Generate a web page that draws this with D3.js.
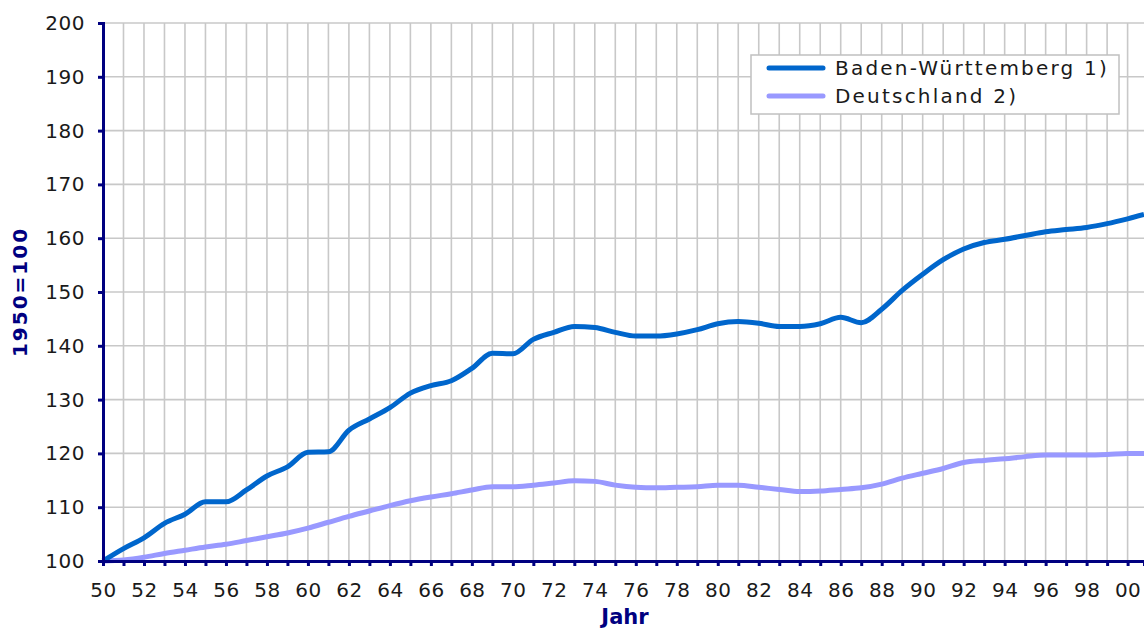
<!DOCTYPE html>
<html>
<head>
<meta charset="utf-8">
<script src="https://cdn.jsdelivr.net/npm/d3@7/dist/d3.min.js"></script>
<style>
  html, body { margin: 0; padding: 0; background: #fff; }
  svg { display: block; }
</style>
</head>
<body>
<svg id="chart" width="1144" height="630"></svg>
<script>
// Jahre (letzter Punkt: Ende 2000, Bild rechts abgeschnitten)
const years = [1950, 1951, 1952, 1953, 1954, 1955, 1956, 1957, 1958, 1959,
  1960, 1961, 1962, 1963, 1964, 1965, 1966, 1967, 1968, 1969,
  1970, 1971, 1972, 1973, 1974, 1975, 1976, 1977, 1978, 1979,
  1980, 1981, 1982, 1983, 1984, 1985, 1986, 1987, 1988, 1989,
  1990, 1991, 1992, 1993, 1994, 1995, 1996, 1997, 1998, 1999,
  2000, 2000.8];

const badenWuerttemberg = [100, 102.3, 104.3, 107.0, 108.7, 111.0, 111.0, 113.2, 115.8, 117.5,
  120.2, 120.3, 124.3, 126.4, 128.5, 131.2, 132.6, 133.5, 135.8, 138.6,
  138.5, 141.2, 142.5, 143.6, 143.4, 142.5, 141.8, 141.8, 142.2, 143.0,
  144.1, 144.5, 144.2, 143.6, 143.6, 144.1, 145.3, 144.3, 146.8, 150.3,
  153.3, 156.0, 158.0, 159.2, 159.8, 160.5, 161.2, 161.6, 162.0, 162.7,
  163.6, 164.4];

const deutschland = [100, 100.2, 100.7, 101.4, 102.0, 102.6, 103.1, 103.8, 104.5, 105.2,
  106.1, 107.2, 108.3, 109.3, 110.3, 111.2, 111.9, 112.5, 113.2, 113.8,
  113.8, 114.1, 114.5, 114.9, 114.8, 114.1, 113.7, 113.6, 113.7, 113.8,
  114.1, 114.1, 113.7, 113.3, 112.9, 113.0, 113.3, 113.6, 114.3, 115.4,
  116.3, 117.2, 118.3, 118.7, 119.0, 119.4, 119.7, 119.7, 119.7, 119.8,
  120.0, 120.0];

const seriesNames = ["Baden-Württemberg 1)", "Deutschland 2)"];
const seriesColors = ["#0066cc", "#9999ff"];
const yTicks = [100, 110, 120, 130, 140, 150, 160, 170, 180, 190, 200];
const xTicks = d3.range(1950, 2001);

const svg = d3.select("#chart");
const axisColor = "#000080";
const font = "'DejaVu Sans', Verdana, sans-serif";

const x = d3.scaleLinear().domain([1950, 2000.8]).range([103, 1144]);
const y = d3.scaleLinear().domain([100, 200]).range([561, 23]);

// Gitter
const grid = svg.append("g");
grid.selectAll(".vgrid")
  .data(xTicks.slice(1))
  .join("line")
  .attr("x1", d => x(d)).attr("x2", d => x(d))
  .attr("y1", y(200)).attr("y2", y(100))
  .attr("stroke", "#c8c8c8").attr("stroke-width", 1.6);
grid.selectAll(".hgrid")
  .data(yTicks.slice(1))
  .join("line")
  .attr("x1", x(1950)).attr("x2", 1144)
  .attr("y1", d => y(d)).attr("y2", d => y(d))
  .attr("stroke", "#c8c8c8").attr("stroke-width", 1.6);

// Linien
const rows = years.map((yr, i) => ({ yr, bw: badenWuerttemberg[i], de: deutschland[i] }));
const line = key => d3.line().x(d => x(d.yr)).y(d => y(d[key])).curve(d3.curveMonotoneX);

svg.append("path").datum(rows)
  .attr("d", line("de"))
  .attr("fill", "none").attr("stroke", seriesColors[1])
  .attr("stroke-width", 5).attr("stroke-linejoin", "round");
svg.append("path").datum(rows)
  .attr("d", line("bw"))
  .attr("fill", "none").attr("stroke", seriesColors[0])
  .attr("stroke-width", 5).attr("stroke-linejoin", "round");

// Achsen
const xAxis = svg.append("g")
  .attr("transform", `translate(0,${y(100)})`)
  .call(d3.axisBottom(x).tickValues(xTicks).tickSize(5).tickPadding(17)
    .tickFormat(d => d % 2 === 0 ? String(d % 100).padStart(2, "0") : ""));
const yAxis = svg.append("g")
  .attr("transform", `translate(${x(1950)},0)`)
  .call(d3.axisLeft(y).tickValues(yTicks).tickSize(5).tickPadding(13));

[xAxis, yAxis].forEach(g => {
  g.select(".domain").attr("stroke", axisColor).attr("stroke-width", 3);
  g.selectAll(".tick line").attr("stroke", axisColor).attr("stroke-width", 3);
  g.selectAll(".tick text")
    .attr("fill", "#1a1a1a")
    .attr("font-family", font)
    .attr("font-size", "20px")
    .attr("letter-spacing", "0.5px");
});

// Achsentitel
svg.append("text")
  .attr("transform", `translate(27,${(y(100) + y(200)) / 2}) rotate(-90)`)
  .attr("text-anchor", "middle")
  .attr("font-family", font).attr("font-size", "20px").attr("font-weight", "bold")
  .attr("letter-spacing", "2px")
  .attr("fill", axisColor)
  .text("1950=100");

svg.append("text")
  .attr("x", 625).attr("y", 624)
  .attr("text-anchor", "middle")
  .attr("font-family", font).attr("font-size", "21px").attr("font-weight", "bold")
  .attr("fill", axisColor)
  .text("Jahr");

// Legende
const legend = svg.append("g").attr("transform", "translate(751,55)");
legend.append("rect")
  .attr("width", 368).attr("height", 59)
  .attr("fill", "#fff").attr("stroke", "#c0c0c0").attr("stroke-width", 1.5);
seriesNames.forEach((name, i) => {
  const ly = 13 + i * 28;
  legend.append("line")
    .attr("x1", 18).attr("x2", 72).attr("y1", ly).attr("y2", ly)
    .attr("stroke", seriesColors[i]).attr("stroke-width", 5).attr("stroke-linecap", "round");
  legend.append("text")
    .attr("x", 84).attr("y", ly + 7)
    .attr("font-family", font).attr("font-size", "20px")
    .attr("letter-spacing", "2.2px")
    .attr("fill", "#1a1a1a")
    .text(name);
});
</script>
</body>
</html>
